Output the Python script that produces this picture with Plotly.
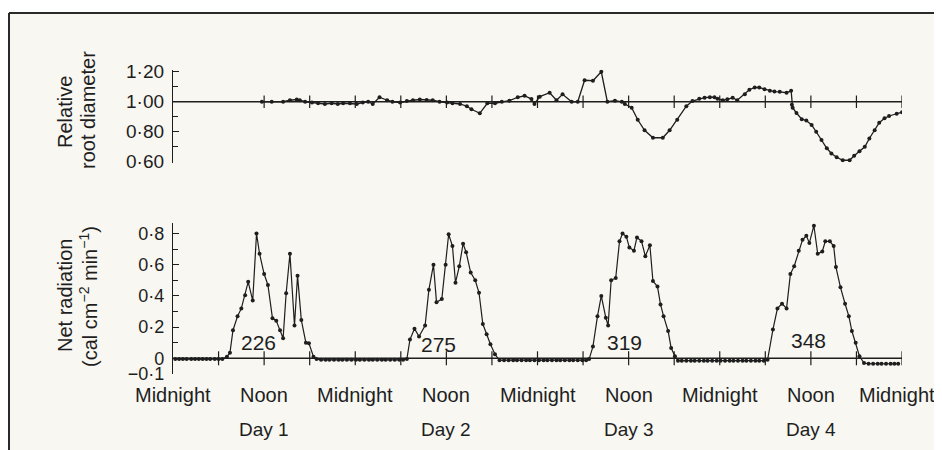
import plotly.graph_objects as go

# ---------------- data (hours from first midnight) ----------------
root_hours = [11.7, 13.0, 14.5, 15.4, 16.3, 16.7, 17.4, 18.3, 19.1, 20.0, 20.9, 21.7, 22.4, 23.3,
              24.2, 25.0, 25.7, 26.3, 27.2, 28.2, 28.9, 29.9, 30.8, 31.6, 32.5, 33.4, 34.2, 35.1,
              36.1, 36.8, 37.8, 38.7, 39.3, 40.4, 41.4, 42.4, 43.3, 44.3, 45.4, 46.3, 47.2, 47.6,
              48.3, 49.6, 50.5, 51.3, 52.5, 53.3, 54.2, 55.3, 56.4, 57.2, 58.2, 59.1, 59.5, 60.4,
              61.2, 62.1, 63.2, 64.5, 65.4, 66.4, 67.6, 68.4, 69.3, 70.0, 70.7, 71.3, 71.7, 72.4,
              73.0, 73.7, 74.3, 75.3, 75.9, 76.6, 77.2, 77.9, 78.6, 79.2, 79.9, 80.8, 81.4, 81.5,
              81.6, 82.1, 82.8, 83.4, 84.1, 84.7, 85.4, 86.1, 86.7, 87.4, 88.2, 89.1, 89.7, 90.4,
              91.1, 91.7, 92.4, 93.0, 93.7, 94.3, 95.3, 96.0]
root_diam = [1.00, 1.00, 1.00, 1.01, 1.015, 1.01, 1.00, 0.995, 0.99, 0.985, 0.99, 0.985, 0.99, 0.99,
             0.985, 0.995, 1.00, 0.985, 1.03, 1.01, 1.00, 0.995, 1.005, 1.01, 1.015, 1.012, 1.01, 1.00,
             0.995, 0.99, 0.985, 0.97, 0.95, 0.923, 0.99, 0.99, 1.00, 1.007, 1.03, 1.04, 1.018, 0.985,
             1.034, 1.06, 1.01, 1.05, 1.00, 1.00, 1.143, 1.14, 1.20, 1.00, 1.007, 1.00, 0.985, 0.96,
             0.88, 0.81, 0.76, 0.76, 0.81, 0.88, 0.97, 1.005, 1.02, 1.027, 1.03, 1.03, 1.02, 1.01,
             1.016, 1.027, 1.01, 1.05, 1.08, 1.095, 1.095, 1.084, 1.073, 1.068, 1.066, 1.06, 1.073, 0.98,
             0.96, 0.925, 0.884, 0.875, 0.845, 0.80, 0.745, 0.69, 0.655, 0.63, 0.61, 0.61, 0.64, 0.67,
             0.70, 0.755, 0.81, 0.86, 0.89, 0.905, 0.92, 0.93]

rad_hours = [0.3, 0.8, 1.3, 1.8, 2.4, 2.9, 3.4, 3.9, 4.4, 4.9, 5.5, 6.0, 6.5,
             7.1, 7.5, 7.9, 8.5, 9.0, 9.5, 9.9, 10.5, 11.0, 11.4, 12.0, 12.5, 13.1, 13.6, 14.1, 14.5,
             14.9, 15.4, 16.0, 16.4, 16.9, 17.5, 17.9, 18.5, 18.9,
             19.5, 20.1, 20.6, 21.2, 21.8, 22.3, 22.9, 23.5, 24.1, 24.6, 25.2, 25.8, 26.3, 26.9,
             27.5, 28.0, 28.6, 29.2, 29.8, 30.3,
             30.8, 31.2, 31.8, 32.4, 33.2, 33.7, 34.3, 34.7, 35.4, 35.9, 36.3, 36.8, 37.2, 37.7,
             38.2, 38.6, 39.2, 39.8, 40.3, 40.8, 41.3, 41.8, 42.4, 43.0,
             43.6, 44.2, 44.8, 45.3, 45.9, 46.5, 47.0, 47.6, 48.2, 48.8, 49.3, 49.9, 50.5, 51.0,
             51.6, 52.2, 52.7, 53.3, 53.9, 54.4,
             54.8, 55.3, 55.9, 56.4, 57.0, 57.3, 57.7, 58.3, 58.8, 59.2, 59.7, 60.1, 60.7, 61.1,
             61.7, 62.2, 62.8, 63.2, 63.8, 64.2, 64.6, 65.2, 65.6, 66.1, 66.5,
             67.0, 67.6, 68.2, 68.7, 69.3, 69.9, 70.4, 71.0, 71.6, 72.1, 72.7, 73.3, 73.8, 74.4,
             75.0, 75.5, 76.1, 76.7, 77.2, 77.8,
             78.3, 79.0, 79.6, 80.2, 80.8, 81.3, 81.8, 82.4, 82.9, 83.4, 83.8, 84.4, 84.9, 85.5,
             85.9, 86.5, 87.0, 87.3, 87.9, 88.5, 89.0, 89.4, 89.9, 90.4, 91.0,
             91.6, 92.2, 92.8, 93.3, 93.9, 94.5, 95.0, 95.5]
rad_vals = [-0.005, -0.005, -0.005, -0.005, -0.005, -0.005, -0.005, -0.005, -0.005, -0.005, -0.005, -0.005, -0.005,
            0.01, 0.035, 0.18, 0.27, 0.32, 0.405, 0.49, 0.37, 0.80, 0.67, 0.54, 0.47, 0.256, 0.24, 0.18, 0.128,
            0.417, 0.67, 0.21, 0.53, 0.245, 0.10, 0.096, 0.01, -0.005,
            -0.01, -0.01, -0.01, -0.01, -0.01, -0.01, -0.01, -0.01, -0.01, -0.01, -0.01, -0.01, -0.01, -0.01,
            -0.01, -0.01, -0.01, -0.01, -0.01, -0.01,
            -0.005, 0.12, 0.19, 0.14, 0.21, 0.44, 0.60, 0.36, 0.38, 0.60, 0.795, 0.72, 0.485, 0.59,
            0.735, 0.68, 0.55, 0.50, 0.42, 0.22, 0.154, 0.09, 0.026, -0.013,
            -0.012, -0.012, -0.012, -0.012, -0.012, -0.012, -0.012, -0.012, -0.012, -0.012, -0.012, -0.012, -0.012, -0.012,
            -0.012, -0.012, -0.012, -0.012, -0.012, -0.012,
            -0.005, 0.075, 0.27, 0.40, 0.26, 0.21, 0.50, 0.515, 0.75, 0.80, 0.78, 0.71, 0.69, 0.775,
            0.75, 0.655, 0.725, 0.495, 0.46, 0.345, 0.27, 0.175, 0.066, 0.013, -0.015,
            -0.015, -0.015, -0.015, -0.015, -0.015, -0.015, -0.015, -0.015, -0.015, -0.015, -0.015, -0.015, -0.015, -0.015,
            -0.015, -0.015, -0.015, -0.015, -0.015, -0.015,
            -0.01, 0.184, 0.32, 0.35, 0.32, 0.54, 0.59, 0.69, 0.76, 0.785, 0.74, 0.85, 0.67, 0.685,
            0.75, 0.75, 0.72, 0.585, 0.455, 0.35, 0.27, 0.175, 0.10, 0.013, -0.03,
            -0.035, -0.035, -0.035, -0.035, -0.035, -0.035, -0.035, -0.035]

# day totals written under each radiation curve
day_totals = ["226", "275", "319", "348"]
total_hours = [11.2, 34.9, 59.5, 83.7]
total_levels = [0.10, 0.09, 0.10, 0.115]

time_ticks = [0, 12, 24, 36, 48, 60, 72, 84, 96]
time_labels = ["Midnight", "Noon", "Midnight", "Noon", "Midnight", "Noon", "Midnight", "Noon", "Midnight"]
day_labels = ["Day 1", "Day 2", "Day 3", "Day 4"]
day_hours = [12, 36, 60, 84]

root_tickvals = [1.20, 1.00, 0.80, 0.60]
root_ticktext = ["1·20", "1·00", "0·80", "0·60"]
rad_tickvals = [0.8, 0.6, 0.4, 0.2, 0.0, -0.1]
rad_ticktext = ["0·8", "0·6", "0·4", "0·2", "0", "−0·1"]

top_line_marks = [12, 18, 24, 30, 36, 42, 48, 54, 60, 66, 72, 78, 84, 90, 96]
zero_line_marks = [6, 12, 18, 24, 30, 36, 42, 48, 54, 60, 66, 72, 78, 84, 90, 96]

# ---------------- figure ----------------
INK = "#1e1e1e"
PAPER = "#f8f7f1"
FONT = "Liberation Sans, Arial, sans-serif"
W, H = 942, 450
OFF = 8                      # page body margin: figure sits 8 px in from the window corner
ML = 173 - OFF
MR = W - (902 - OFF)
PW = W - ML - MR


def px_x(p):                 # window pixel -> paper x
    return (p - OFF - ML) / PW


def px_y(p):                 # window pixel -> paper y
    return 1 - (p - OFF) / H


fig = go.Figure()

# reference lines (1.00 and 0)
fig.add_trace(go.Scatter(x=[0, 96], y=[1.0, 1.0], xaxis="x", yaxis="y", mode="lines",
                         line=dict(color=INK, width=1.3), hoverinfo="skip", showlegend=False))
fig.add_trace(go.Scatter(x=[0, 96], y=[0.0, 0.0], xaxis="x", yaxis="y2", mode="lines",
                         line=dict(color=INK, width=1.4), hoverinfo="skip", showlegend=False))
fig.add_trace(go.Scatter(x=top_line_marks, y=[1.0] * len(top_line_marks), xaxis="x", yaxis="y",
                         mode="markers", marker=dict(symbol="line-ns", size=9, line=dict(color=INK, width=1.2)),
                         hoverinfo="skip", showlegend=False))
fig.add_trace(go.Scatter(x=zero_line_marks, y=[0.0] * len(zero_line_marks), xaxis="x", yaxis="y2",
                         mode="markers", marker=dict(symbol="line-ns", size=10, line=dict(color=INK, width=1.2)),
                         hoverinfo="skip", showlegend=False))

# data
fig.add_trace(go.Scatter(x=root_hours, y=root_diam, xaxis="x", yaxis="y", mode="lines+markers",
                         line=dict(color=INK, width=1.3), marker=dict(color=INK, size=4),
                         showlegend=False))
fig.add_trace(go.Scatter(x=rad_hours, y=rad_vals, xaxis="x", yaxis="y2", mode="lines+markers",
                         line=dict(color=INK, width=1.2), marker=dict(color=INK, size=4),
                         showlegend=False))

annotations = []
for t, h, v in zip(day_totals, total_hours, total_levels):
    annotations.append(dict(x=h, y=v, xref="x", yref="y2", text=t, showarrow=False,
                            font=dict(size=21, color=INK, family=FONT), xanchor="center", yanchor="middle"))
# time-of-day labels under the lower panel
for i, (t, h) in enumerate(zip(time_labels, time_ticks)):
    annotations.append(dict(x=h, y=px_y(395), xref="x", yref="paper", text=t, showarrow=False,
                            xshift=(-5 if i == len(time_ticks) - 1 else 0),
                            font=dict(size=20, color=INK, family=FONT), xanchor="center", yanchor="middle"))
for t, h in zip(day_labels, day_hours):
    annotations.append(dict(x=h, y=px_y(429), xref="x", yref="paper", text=t, showarrow=False,
                            font=dict(size=19, color=INK, family=FONT), xanchor="center", yanchor="middle"))

title_font = dict(size=20, color=INK, family=FONT)
annotations += [
    dict(x=px_x(65), y=px_y(112), xref="paper", yref="paper", text="Relative", textangle=-90,
         showarrow=False, font=title_font, xanchor="center", yanchor="middle"),
    dict(x=px_x(88), y=px_y(110), xref="paper", yref="paper", text="root diameter", textangle=-90,
         showarrow=False, font=title_font, xanchor="center", yanchor="middle"),
    dict(x=px_x(65), y=px_y(296), xref="paper", yref="paper", text="Net radiation", textangle=-90,
         showarrow=False, font=title_font, xanchor="center", yanchor="middle"),
    dict(x=px_x(88), y=px_y(297), xref="paper", yref="paper",
         text="(cal cm<sup>−2</sup> min<sup>−1</sup>)", textangle=-90,
         showarrow=False, font=title_font, xanchor="center", yanchor="middle"),
]

shapes = [
    # white page margin above the printed frame
    dict(type="rect", xref="paper", yref="paper", x0=px_x(0), x1=px_x(960), y0=px_y(12), y1=px_y(0),
         fillcolor="white", line=dict(width=0), layer="below"),
    # frame lines
    dict(type="line", xref="paper", yref="paper", x0=px_x(9), x1=px_x(960), y0=px_y(13), y1=px_y(13),
         line=dict(color="#2a2a2a", width=2)),
    dict(type="line", xref="paper", yref="paper", x0=px_x(9), x1=px_x(9), y0=px_y(13), y1=px_y(470),
         line=dict(color="#2a2a2a", width=2)),
]

top_lo, top_hi = 0.595, 1.215
bot_lo, bot_hi = -0.1, 0.87

fig.update_layout(
    width=W, height=H, autosize=False,
    margin=dict(l=ML, r=MR, t=0, b=0, pad=0, autoexpand=False),
    paper_bgcolor=PAPER, plot_bgcolor=PAPER,
    font=dict(family=FONT, color=INK),
    showlegend=False,
    xaxis=dict(domain=[0, 1], range=[0, 96], anchor="y2", showgrid=False, zeroline=False,
               showline=False, ticks="", showticklabels=False, automargin=False),
    yaxis=dict(domain=[px_y(162.5), px_y(69.5)], range=[top_lo, top_hi], anchor="x", automargin=False,
               showgrid=False, zeroline=False, showline=True, linecolor=INK, linewidth=1.3,
               ticks="inside", ticklen=6, tickwidth=1.2, tickcolor=INK,
               tickvals=root_tickvals, ticktext=root_ticktext,
               tickfont=dict(size=19, color=INK, family=FONT), ticklabelstandoff=4,
               minor=dict(ticks="inside", ticklen=5, tickwidth=1, tickcolor=INK, tick0=0, dtick=0.1)),
    yaxis2=dict(domain=[px_y(373.9), px_y(222.6)], range=[bot_lo, bot_hi], anchor="x", automargin=False,
                showgrid=False, zeroline=False, showline=True, linecolor=INK, linewidth=1.3,
                ticks="inside", ticklen=6, tickwidth=1.2, tickcolor=INK,
                tickvals=rad_tickvals, ticktext=rad_ticktext,
                tickfont=dict(size=18, color=INK, family=FONT), ticklabelstandoff=4,
                minor=dict(ticks="inside", ticklen=5, tickwidth=1, tickcolor=INK, tick0=0, dtick=0.1)),
    annotations=annotations,
    shapes=shapes,
)

fig.write_html("out.html")
